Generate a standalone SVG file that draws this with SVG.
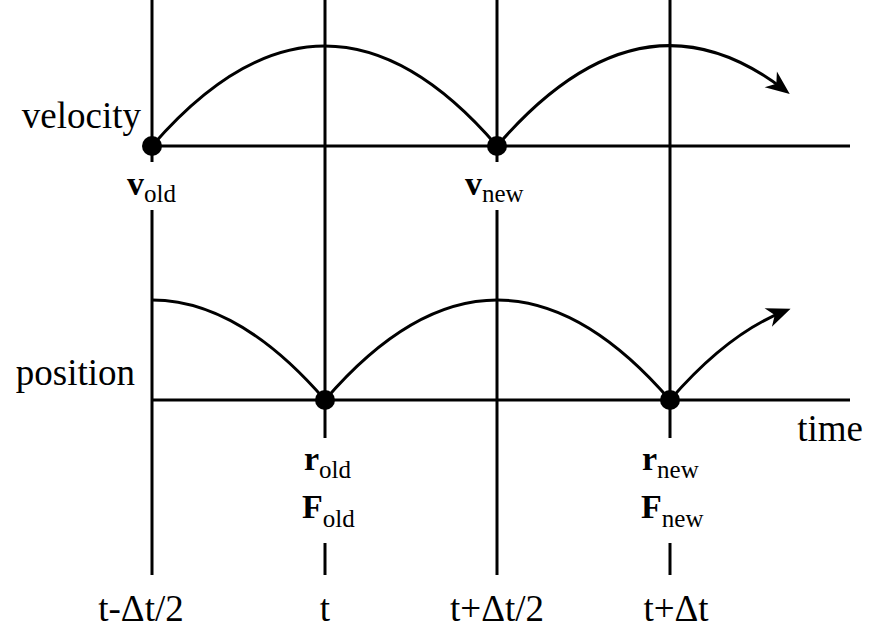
<svg xmlns="http://www.w3.org/2000/svg" width="869" height="630" viewBox="0 0 869 630" font-family="'Liberation Serif', 'Times New Roman', 'DejaVu Serif', serif">
<style>
text{font-family:'Liberation Serif','Times New Roman','DejaVu Serif',serif}
.ln{fill:none;stroke:#000;stroke-width:3}
.lbl{font-size:37px;fill:#000}
.sym{font-size:34px;font-weight:bold;fill:#000}
.sub{font-size:25px;font-weight:normal}
.dot{fill:#000}
</style>
<defs>
<marker id="ah" markerUnits="userSpaceOnUse" markerWidth="40" markerHeight="40" viewBox="-25 -15 40 30" refX="0" refY="0" orient="auto" overflow="visible">
<path d="M6,0 L-18,-10 L-11,0 L-18,10 Z" fill="#000"/>
</marker>
</defs>
<rect width="869" height="630" fill="#fff"/>
<g id="axes">
<line class="ln" x1="152" y1="0" x2="152" y2="162"/>
<line class="ln" x1="152" y1="210" x2="152" y2="575"/>
<line class="ln" x1="325" y1="0" x2="325" y2="438"/>
<line class="ln" x1="325" y1="543" x2="325" y2="575"/>
<line class="ln" x1="497" y1="0" x2="497" y2="162"/>
<line class="ln" x1="497" y1="210" x2="497" y2="575"/>
<line class="ln" x1="670" y1="0" x2="670" y2="438"/>
<line class="ln" x1="670" y1="543" x2="670" y2="575"/>
<line class="ln" x1="152" y1="146" x2="850" y2="146"/>
<line class="ln" x1="152" y1="400" x2="850" y2="400"/>
</g>
<g id="connectors">
<path class="ln" d="M152,146 Q325,-54 497,146"/>
<path class="ln" d="M497,146 Q641,-21.5 785,90.4" marker-end="url(#ah)"/>
<path class="ln" d="M152,300 Q238.5,300 325,400"/>
<path class="ln" d="M325,400 Q497,200 670,400"/>
<path class="ln" d="M670,400 Q727.5,333.5 785,310.9" marker-end="url(#ah)"/>
</g>
<g id="v_old"><circle class="dot" cx="152" cy="146" r="10"/><text class="sym" x="127" y="195">v<tspan class="sub" dy="7">old</tspan></text></g>
<g id="v_new"><circle class="dot" cx="497" cy="146" r="10"/><text class="sym" x="465" y="195">v<tspan class="sub" dy="7">new</tspan></text></g>
<g id="r_old"><circle class="dot" cx="325" cy="400" r="10"/><text class="sym" x="304" y="470">r<tspan class="sub" dy="8">old</tspan></text><text class="sym" x="302" y="518">F<tspan class="sub" dy="9">old</tspan></text></g>
<g id="r_new"><circle class="dot" cx="670" cy="400" r="10"/><text class="sym" x="642" y="470">r<tspan class="sub" dy="8">new</tspan></text><text class="sym" x="641" y="518">F<tspan class="sub" dy="9">new</tspan></text></g>
<g id="labels">
<text class="lbl" x="141" y="128" text-anchor="end">velocity</text>
<text class="lbl" x="135" y="385" text-anchor="end">position</text>
<text class="lbl" x="863" y="441" text-anchor="end">time</text>
<text class="lbl" x="141" y="621" text-anchor="middle">t-Δt/2</text>
<text class="lbl" x="325" y="621" text-anchor="middle">t</text>
<text class="lbl" x="497" y="621" text-anchor="middle">t+Δt/2</text>
<text class="lbl" x="676" y="621" text-anchor="middle">t+Δt</text>
</g>
</svg>
